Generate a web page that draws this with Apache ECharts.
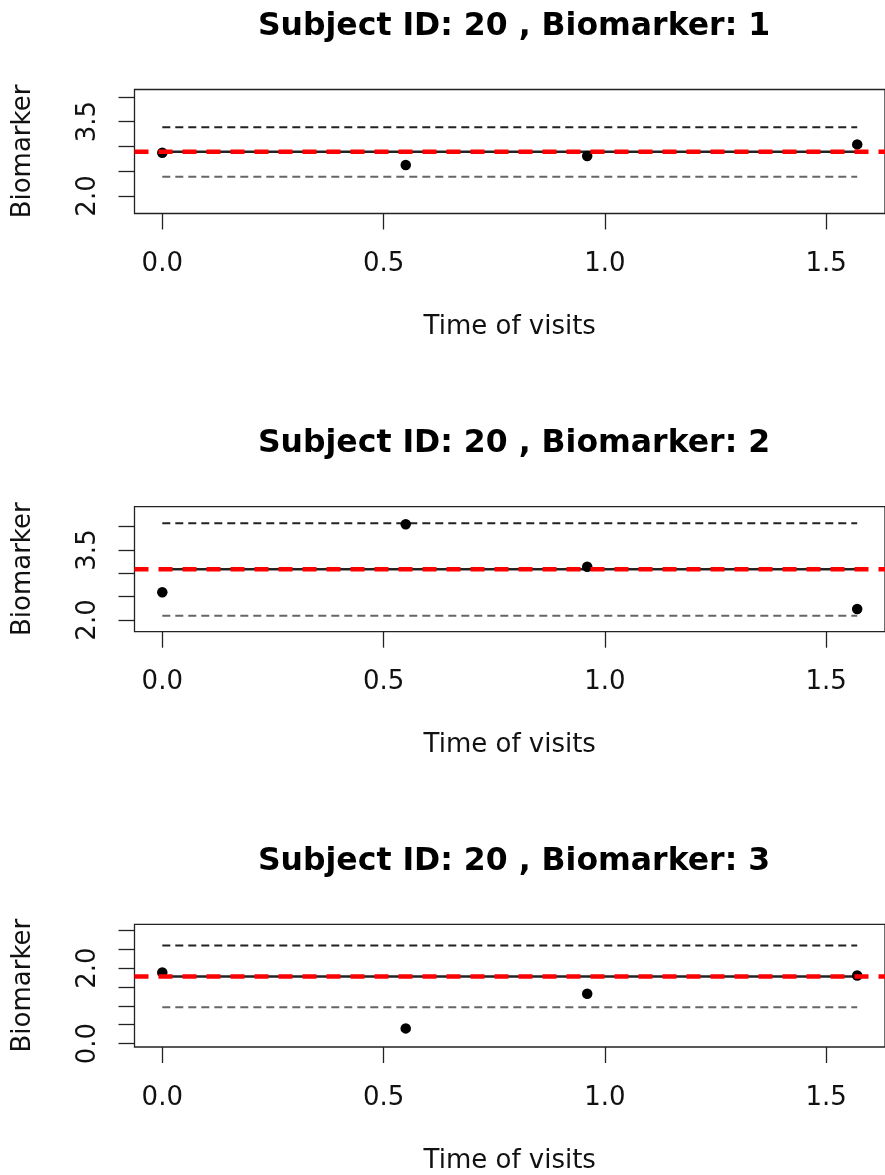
<!DOCTYPE html>
<html>
<head>
<meta charset="utf-8">
<script src="https://cdn.jsdelivr.net/npm/echarts@6/dist/echarts.min.js"></script>
<style>html,body{margin:0;padding:0;background:#fff;}#c{width:885px;height:1175px;}</style>
</head>
<body>
<div id="c"></div>
<script>
// ---- data ----
const subjectId = 20;
const biomarkerIds = [1, 2, 3];
const visitTimes = [0, 0.55, 0.96, 1.57];
const biomarker1 = [2.873, 2.625, 2.806, 3.04];
const biomarker2 = [2.593, 4.05, 3.142, 2.236];
const biomarker3 = [1.884, 0.403, 1.32, 1.805];
const centerLines = [2.893, 3.086, 1.779];
const upperLines = [3.385, 4.072, 2.595];
const lowerLines = [2.389, 2.093, 0.963];
const yRanges = [[1.647, 4.147], [1.749, 4.428], [-0.089, 3.158]];
const yTicks = [[2, 2.5, 3, 3.5, 4], [2, 2.5, 3, 3.5, 4], [0, 0.5, 1, 1.5, 2, 2.5, 3]];
const yTickLabels = [[2, 3.5], [2, 3.5], [0, 2]];
const xTicks = [0, 0.5, 1, 1.5];
const xRange = [-0.0628, 1.6328];

// ---- layout ----
const font = 'DejaVu Sans';
const gridTops = [89.5, 506.7, 924.3];
const gridHeights = [124, 125, 123.4];
const titleTops = [6, 423, 840.5];
const series = [];
const grids = [], xAxes = [], yAxes = [], titles = [];
const values = [biomarker1, biomarker2, biomarker3];

for (let i = 0; i < 3; i++) {
  grids.push({left: 134.5, width: 757.3, top: gridTops[i], height: gridHeights[i],
    show: true, borderColor: '#222', borderWidth: 1.3, backgroundColor: 'transparent'});
  titles.push({text: 'Subject ID: ' + subjectId + ' , Biomarker: ' + biomarkerIds[i],
    left: 509, top: titleTops[i], textAlign: 'center',
    textStyle: {fontFamily: font, fontWeight: 'bold', fontSize: 31.5, color: '#000'}});
  xAxes.push({type: 'value', gridIndex: i, min: xRange[0], max: xRange[1],
    name: 'Time of visits', nameLocation: 'middle', nameGap: 101,
    nameTextStyle: {fontFamily: font, fontSize: 26, color: '#111'},
    axisLine: {show: false, onZero: false},
    splitLine: {show: false},
    axisTick: {show: true, inside: false, length: 16, customValues: xTicks, lineStyle: {color: '#222', width: 1.3}},
    axisLabel: {show: true, margin: 38, customValues: xTicks, fontFamily: font, fontSize: 26, color: '#111',
      formatter: v => v.toFixed(1)}
  });
  yAxes.push({type: 'value', gridIndex: i, min: yRanges[i][0], max: yRanges[i][1],
    name: 'Biomarker', nameLocation: 'middle', nameGap: 98,
    nameTextStyle: {fontFamily: font, fontSize: 26, color: '#111'},
    axisLine: {show: false, onZero: false},
    splitLine: {show: false},
    axisTick: {show: true, inside: false, length: 16, customValues: yTicks[i], lineStyle: {color: '#222', width: 1.3}},
    axisLabel: {show: true, rotate: 90, margin: 33, customValues: yTickLabels[i], fontFamily: font, fontSize: 26, color: '#111',
      formatter: v => v.toFixed(1)}
  });
  const last = visitTimes[visitTimes.length - 1];
  series.push({type: 'line', xAxisIndex: i, yAxisIndex: i, symbol: 'none', z: 2,
    data: [[visitTimes[0], upperLines[i]], [last, upperLines[i]]],
    lineStyle: {color: '#222', width: 2, type: [8, 5]}});
  series.push({type: 'line', xAxisIndex: i, yAxisIndex: i, symbol: 'none', z: 2,
    data: [[visitTimes[0], lowerLines[i]], [last, lowerLines[i]]],
    lineStyle: {color: '#666', width: 2, type: [8, 5]}});
  series.push({type: 'line', xAxisIndex: i, yAxisIndex: i, symbol: 'none', z: 2,
    data: [[visitTimes[0], centerLines[i]], [last, centerLines[i]]],
    lineStyle: {color: '#222', width: 2.5, type: 'solid'}});
  series.push({type: 'scatter', xAxisIndex: i, yAxisIndex: i, z: 3, symbolSize: 10.5,
    itemStyle: {color: '#000', opacity: 1},
    data: visitTimes.map((t, k) => [t, values[i][k]])});
  series.push({type: 'line', xAxisIndex: i, yAxisIndex: i, symbol: 'none', z: 5,
    data: [[xRange[0], centerLines[i]], [xRange[1], centerLines[i]]],
    lineStyle: {color: '#ff0000', width: 4.5, type: [14, 10]}});
}

const chart = echarts.init(document.getElementById('c'), null, {renderer: 'canvas'});
chart.setOption({
  animation: false,
  backgroundColor: '#fff',
  title: titles,
  grid: grids,
  xAxis: xAxes,
  yAxis: yAxes,
  series: series
});
</script>
</body>
</html>
